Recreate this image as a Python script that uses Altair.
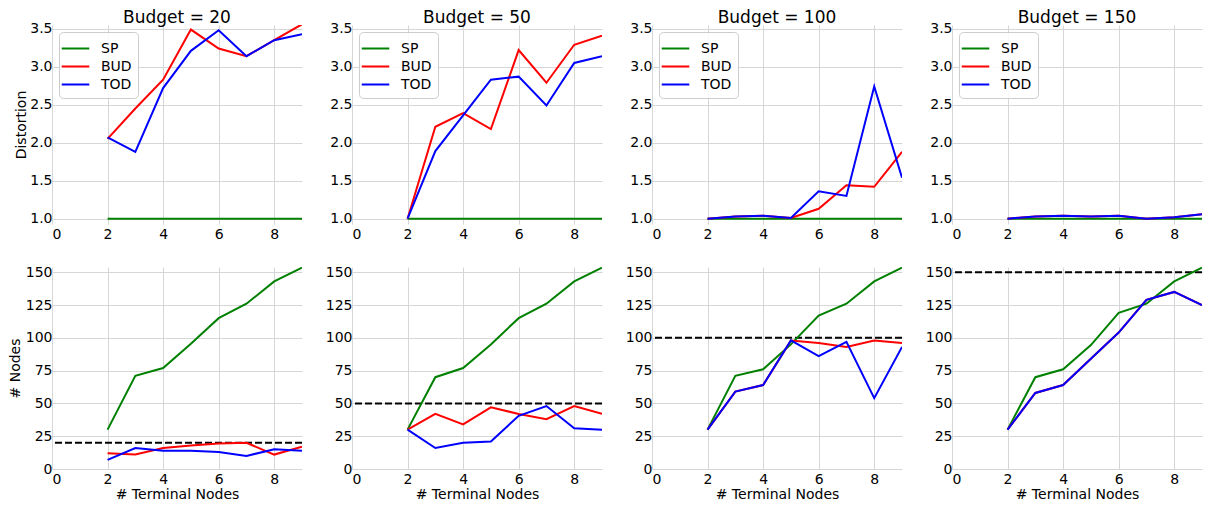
import altair as alt
import pandas as pd

budgets = [20, 50, 100, 150]
methods = ["SP", "BUD", "TOD"]
colors = ["green", "red", "blue"]
terminals = [2, 3, 4, 5, 6, 7, 8, 9]
x_ticks = [0, 2, 4, 6, 8]
dist_ticks = [1.0, 1.5, 2.0, 2.5, 3.0, 3.5]
node_ticks = [0, 25, 50, 75, 100, 125, 150]

# Distortion (top row)
dist_sp_20 = [1.0, 1.0, 1.0, 1.0, 1.0, 1.0, 1.0, 1.0]
dist_bud_20 = [2.05, 2.45, 2.83, 3.49, 3.24, 3.14, 3.35, 3.56]
dist_tod_20 = [2.07, 1.88, 2.72, 3.21, 3.48, 3.14, 3.35, 3.43]

dist_sp_50 = [1.0, 1.0, 1.0, 1.0, 1.0, 1.0, 1.0, 1.0]
dist_bud_50 = [1.0, 2.21, 2.39, 2.18, 3.22, 2.79, 3.29, 3.41]
dist_tod_50 = [1.0, 1.89, 2.36, 2.83, 2.87, 2.49, 3.05, 3.14]

dist_sp_100 = [1.0, 1.0, 1.0, 1.0, 1.0, 1.0, 1.0, 1.0]
dist_bud_100 = [1.0, 1.03, 1.04, 1.01, 1.13, 1.44, 1.42, 1.88]
dist_tod_100 = [1.0, 1.03, 1.04, 1.01, 1.36, 1.30, 2.74, 1.54]

dist_sp_150 = [1.0, 1.0, 1.0, 1.0, 1.0, 1.0, 1.0, 1.0]
dist_bud_150 = [1.0, 1.03, 1.04, 1.03, 1.04, 1.0, 1.02, 1.06]
dist_tod_150 = [1.0, 1.03, 1.04, 1.03, 1.04, 1.0, 1.02, 1.06]

# Number of nodes (bottom row)
nodes_sp_20 = [30, 71, 77, 95.5, 115, 126, 143, 153.5]
nodes_bud_20 = [12, 11, 16, 18, 19.5, 20, 11, 17]
nodes_tod_20 = [7, 16, 14, 14, 13, 10, 15, 14]

nodes_sp_50 = [30, 70, 77, 95, 115, 126, 143, 153.5]
nodes_bud_50 = [30, 42, 34, 47, 42, 38, 48, 42]
nodes_tod_50 = [30, 16, 20, 21, 40.5, 48, 31, 30]

nodes_sp_100 = [30, 71, 76, 95, 117, 126, 143, 153.5]
nodes_bud_100 = [30, 59, 64, 98, 96, 93, 98, 96]
nodes_tod_100 = [30, 59, 64, 98, 86, 97, 54, 93]

nodes_sp_150 = [30, 70, 76, 94.5, 119, 126, 143, 153.5]
nodes_bud_150 = [30, 58, 64, 84, 104, 129, 135, 125]
nodes_tod_150 = [30, 58, 64, 84, 104, 129, 135, 125]

series = {
    ("dist", 20): [dist_sp_20, dist_bud_20, dist_tod_20],
    ("dist", 50): [dist_sp_50, dist_bud_50, dist_tod_50],
    ("dist", 100): [dist_sp_100, dist_bud_100, dist_tod_100],
    ("dist", 150): [dist_sp_150, dist_bud_150, dist_tod_150],
    ("nodes", 20): [nodes_sp_20, nodes_bud_20, nodes_tod_20],
    ("nodes", 50): [nodes_sp_50, nodes_bud_50, nodes_tod_50],
    ("nodes", 100): [nodes_sp_100, nodes_bud_100, nodes_tod_100],
    ("nodes", 150): [nodes_sp_150, nodes_bud_150, nodes_tod_150],
}

FONT = "DejaVu Sans"
W = 250


def panel(metric, budget, first_col):
    rows = []
    for m, vals in zip(methods, series[(metric, budget)]):
        for t, v in zip(terminals, vals):
            rows.append({"x": t, "value": v, "method": m})
    df = pd.DataFrame(rows)
    top = metric == "dist"
    xax = alt.Axis(values=x_ticks, title=None if top else "# Terminal Nodes",
                   labelPadding=3, titlePadding=1)
    if top:
        ysc = alt.Scale(domain=[0.93, 3.55], nice=False, zero=False)
        yax = alt.Axis(values=dist_ticks, format=".1f",
                       title="Distortion" if first_col else None, labelPadding=0, titlePadding=1)
    else:
        ysc = alt.Scale(domain=[0, 154], nice=False)
        yax = alt.Axis(values=node_ticks, format="d",
                       title="# Nodes" if first_col else None, labelPadding=0, titlePadding=3)
    if top:
        leg = alt.Legend(orient="top-left", title=None, symbolType="M-1.45,0L1.45,0",
                         symbolSize=361, symbolStrokeWidth=2, labelFontSize=14,
                         labelFont=FONT, labelOffset=15, padding=6, offset=7, rowPadding=0,
                         fillColor="rgba(255,255,255,0.85)", strokeColor="#cccccc",
                         cornerRadius=4)
    else:
        leg = None
    layers = []
    for m in methods:
        layers.append(
            alt.Chart(df).transform_filter(alt.datum.method == m)
            .mark_line(strokeWidth=2, clip=True)
            .encode(
                x=alt.X("x:Q", scale=alt.Scale(domain=[0, 9], nice=False), axis=xax),
                y=alt.Y("value:Q", scale=ysc, axis=yax),
                color=alt.Color("method:N", scale=alt.Scale(domain=methods, range=colors),
                                legend=leg),
            )
        )
    if not top:
        rule = alt.Chart(pd.DataFrame({"b": [budget]})).mark_rule(
            color="black", strokeWidth=2, strokeDash=[7, 3]
        ).encode(y=alt.Y("b:Q", scale=ysc, axis=yax))
        layers.insert(0, rule)
    ch = alt.layer(*layers).properties(width=W, height=199 if top else 202)
    if top:
        ch = ch.properties(title=alt.TitleParams(f"Budget = {budget}", fontSize=17,
                                                 fontWeight="normal", font=FONT, offset=-5))
    return ch


top_row = alt.hconcat(*[panel("dist", b, i == 0) for i, b in enumerate(budgets)],
                      spacing=50, bounds="flush").resolve_scale(color="independent").resolve_legend(color="independent")
bottom_row = alt.hconcat(*[panel("nodes", b, i == 0) for i, b in enumerate(budgets)],
                         spacing=50, bounds="flush").resolve_scale(color="independent")

chart = alt.vconcat(top_row, bottom_row, spacing=24).resolve_scale(
    color="independent").resolve_legend(color="independent").properties(
    padding={"left": 0, "top": 0, "right": 0, "bottom": 0}).configure(
    font=FONT
).configure_view(stroke=None).configure_axis(
    labelFont=FONT, titleFont=FONT, labelFontSize=14, titleFontSize=14,
    titleFontWeight="normal", labelColor="black", titleColor="black",
    domain=False, ticks=False, tickSize=0, minExtent=0, grid=True, gridColor="#d6d6d6", gridWidth=1,
)

chart.save("out.html", embed_options={"renderer": "svg", "actions": False})
